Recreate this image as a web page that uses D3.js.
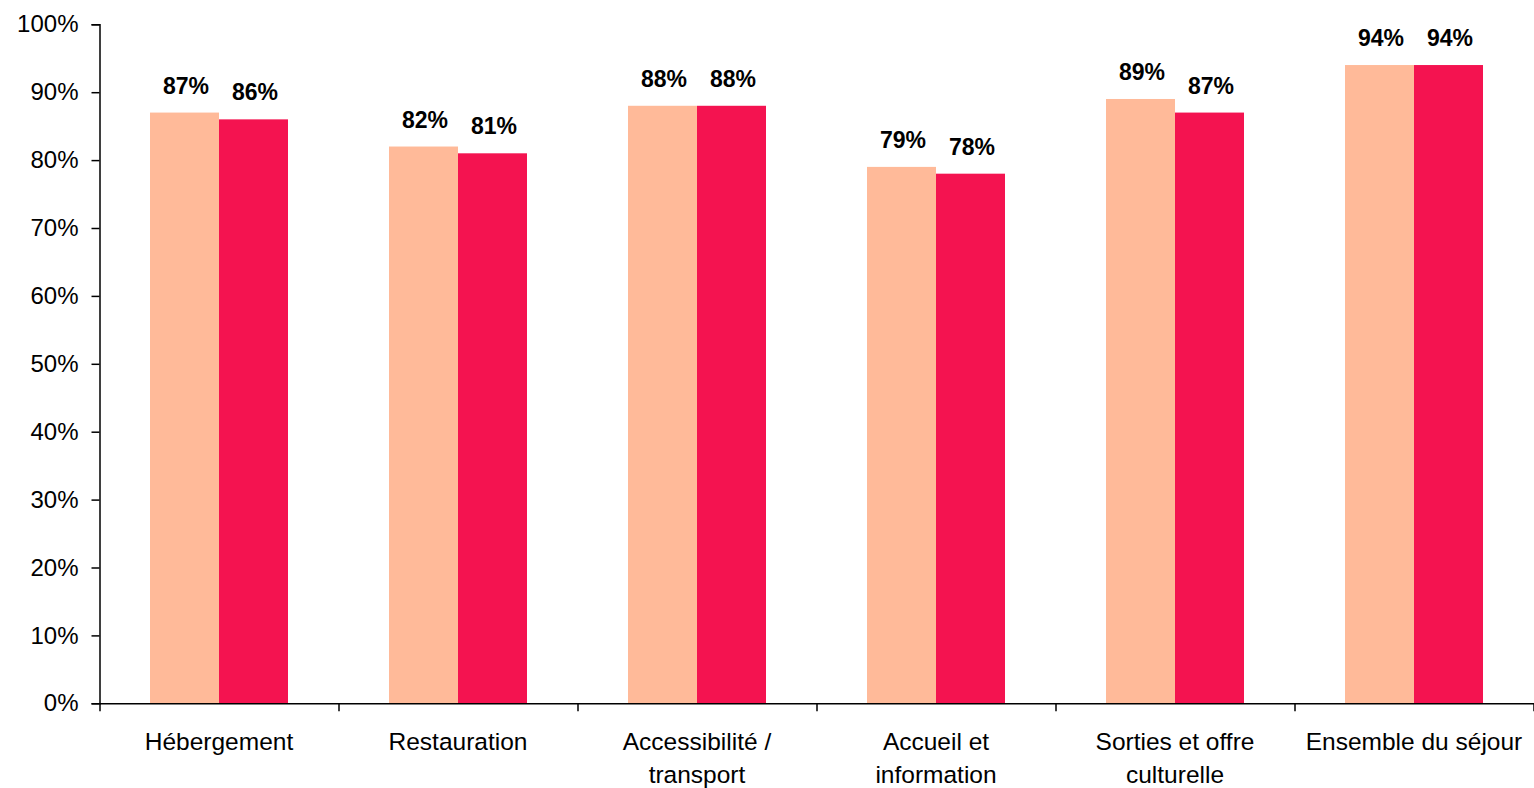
<!DOCTYPE html>
<html>
<head>
<meta charset="utf-8">
<script src="https://cdn.jsdelivr.net/npm/d3@7"></script>
<style>
  html, body { margin: 0; padding: 0; background: #fff; }
  svg { display: block; font-family: "Liberation Sans", Arial, sans-serif; }
</style>
</head>
<body>
<svg id="chart" width="1534" height="788"></svg>
<script>
// Satisfaction by theme, two series per category
const categories = [
  ["Hébergement"],
  ["Restauration"],
  ["Accessibilité /", "transport"],
  ["Accueil et", "information"],
  ["Sorties et offre", "culturelle"],
  ["Ensemble du séjour"]
];
const seriesA = [87, 82, 88, 79, 89, 94];
const seriesB = [86, 81, 88, 78, 87, 94];
const yTicks = [0, 10, 20, 30, 40, 50, 60, 70, 80, 90, 100];
const colors = ["#FFBA99", "#F41350"];

const svg = d3.select("#chart");
const plotLeft = 99.5, plotRight = 1533.5, plotTop = 24.3, plotBottom = 703.3;

const x = d3.scaleBand()
  .domain(d3.range(categories.length))
  .range([plotLeft, plotRight])
  .paddingInner(0).paddingOuter(0);

const inner = d3.scaleBand()
  .domain([0, 1])
  .range([0, x.bandwidth()])
  .paddingOuter(0.732).paddingInner(0);

const y = d3.scaleLinear().domain([0, 100]).range([plotBottom, plotTop]);

// Bars
const series = [seriesA, seriesB];
series.forEach((vals, s) => {
  svg.append("g").selectAll("rect")
    .data(vals)
    .join("rect")
    .attr("x", (d, i) => x(i) + inner(s))
    .attr("width", inner.bandwidth())
    .attr("y", d => y(d))
    .attr("height", d => y(0) - y(d))
    .attr("fill", colors[s]);
});

// Value labels
series.forEach((vals, s) => {
  svg.append("g").selectAll("text")
    .data(vals)
    .join("text")
    .attr("x", (d, i) => x(i) + inner(s) + inner.bandwidth() / 2 + 1.5)
    .attr("y", d => y(d) - 19)
    .attr("text-anchor", "middle")
    .attr("font-size", "23px")
    .attr("font-weight", "bold")
    .attr("fill", "#000")
    .text(d => d + "%");
});

// Y axis
const yAxis = d3.axisLeft(y)
  .tickValues(yTicks)
  .tickSize(8)
  .tickPadding(13)
  .tickFormat(d => d + "%");
const gy = svg.append("g").attr("transform", `translate(${plotLeft},0)`).call(yAxis);
gy.select(".domain").attr("stroke", "#000").attr("stroke-width", 1.5);
gy.selectAll(".tick line").attr("stroke", "#000").attr("stroke-width", 1.5);
gy.selectAll(".tick text")
  .attr("font-size", "24px")
  .attr("font-family", "Liberation Sans, Arial, sans-serif")
  .attr("fill", "#000");

// X axis: baseline with category separators
const sepScale = d3.scaleLinear().domain([0, categories.length]).range([plotLeft, plotRight]);
const xAxis = d3.axisBottom(sepScale)
  .tickValues(d3.range(categories.length + 1))
  .tickSize(8)
  .tickSizeOuter(0)
  .tickFormat("");
const gx = svg.append("g").attr("transform", `translate(0,${plotBottom})`).call(xAxis);
gx.select(".domain").attr("stroke", "#000").attr("stroke-width", 1.5);
gx.selectAll(".tick line").attr("stroke", "#000").attr("stroke-width", 1.5);

// Category labels
const labels = svg.append("g").selectAll("text")
  .data(categories)
  .join("text")
  .attr("x", (d, i) => x(i) + x.bandwidth() / 2)
  .attr("y", 749.5)
  .attr("text-anchor", "middle")
  .attr("font-size", "24.5px")
  .attr("fill", "#000");
labels.selectAll("tspan")
  .data(d => d)
  .join("tspan")
  .attr("x", function () { return d3.select(this.parentNode).attr("x"); })
  .attr("dy", (d, j) => j === 0 ? 0 : 33.3)
  .text(d => d);
</script>
</body>
</html>
